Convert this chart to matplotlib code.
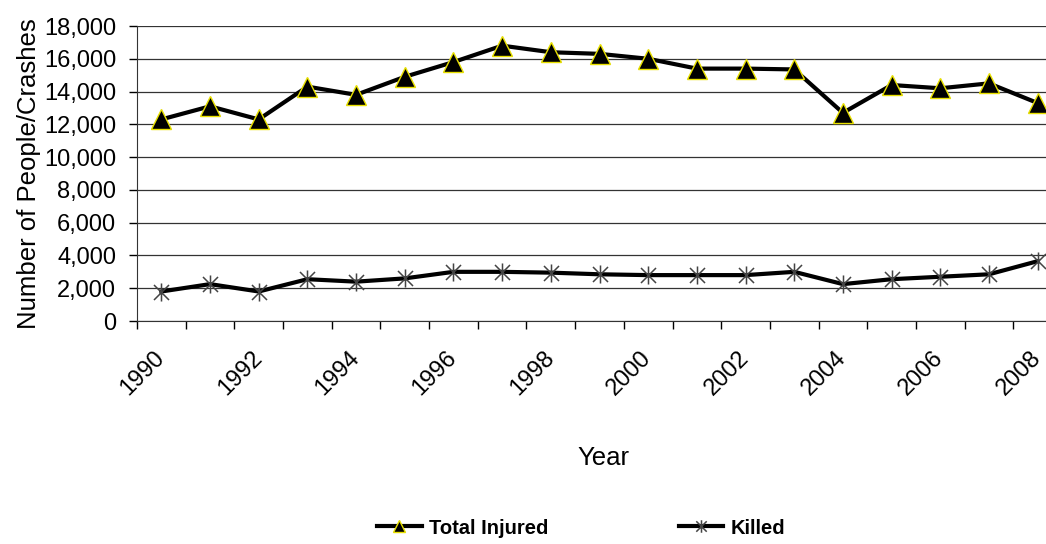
import matplotlib.pyplot as plt
from matplotlib.path import Path

plt.rcParams['font.family'] = ['Liberation Sans', 'DejaVu Sans']

years = [str(y) for y in range(1990, 2009)]
total_injured = [12300, 13100, 12300, 14300, 13800, 14900, 15800, 16800, 16400, 16300,
                 16000, 15400, 15400, 15350, 12700, 14400, 14200, 14500, 13300]
killed = [1800, 2250, 1800, 2550, 2400, 2600, 3000, 3000, 2950, 2850,
          2800, 2800, 2800, 3000, 2250, 2550, 2700, 2850, 3650]

# asterisk-like marker: an X with a vertical bar
star = Path([(-1, -1), (1, 1), (-1, 1), (1, -1), (0, -1.2), (0, 1.2)],
            [Path.MOVETO, Path.LINETO, Path.MOVETO, Path.LINETO, Path.MOVETO, Path.LINETO])

fig = plt.figure(figsize=(10.46, 5.44), dpi=100)
ax = fig.add_axes([137 / 1046, 1 - 321 / 544, 925 / 1046, 295 / 544])

x = list(range(len(years)))
ax.plot(x, total_injured, color='black', lw=3, marker='^', markersize=15,
        markerfacecolor='black', markeredgecolor='#e8e000', markeredgewidth=1,
        label='Total Injured', zorder=3)
ax.plot(x, killed, color='black', lw=3, marker=star, markersize=13,
        markeredgecolor='#444444', markeredgewidth=1.1, fillstyle='none',
        label='Killed', zorder=3)

ax.set_xlim(-0.5, len(years) - 0.5)
ax.set_ylim(0, 18000)
ax.set_yticks(range(0, 18001, 2000))
ax.set_yticklabels([f'{v:,}' for v in range(0, 18001, 2000)])
ax.yaxis.grid(True, color='#333333', lw=0.9)
ax.set_axisbelow(True)

ax.set_xticks(x[::2])
ax.set_xticklabels(years[::2], rotation=45, ha='right', va='center', rotation_mode='anchor')
ax.set_xticks([i - 0.5 for i in range(len(years))], minor=True)
ax.tick_params(axis='x', which='major', length=0, pad=24, labelsize=17)
ax.tick_params(axis='x', which='minor', length=6, width=1, direction='out')
ax.tick_params(axis='y', length=6, width=1, direction='out', labelsize=17, pad=9)

for s in ['top', 'right']:
    ax.spines[s].set_visible(False)
ax.spines['left'].set_color('#333333')
ax.spines['bottom'].set_color('#333333')

ax.set_ylabel('Number of People/Crashes', fontsize=18.5, labelpad=2)
fig.text(603 / 1046, 1 - 458 / 544, 'Year', fontsize=18.5, ha='center', va='center')

leg = fig.legend(loc='center', bbox_to_anchor=(581 / 1046, 1 - 528 / 544), ncol=2,
                 frameon=False, handlelength=2.2, columnspacing=6.5, handletextpad=0.35,
                 prop={'weight': 'bold', 'size': 14.5})
for h in leg.legend_handles:
    h.set_markersize(9)

fig.savefig('out.png', dpi=100)
